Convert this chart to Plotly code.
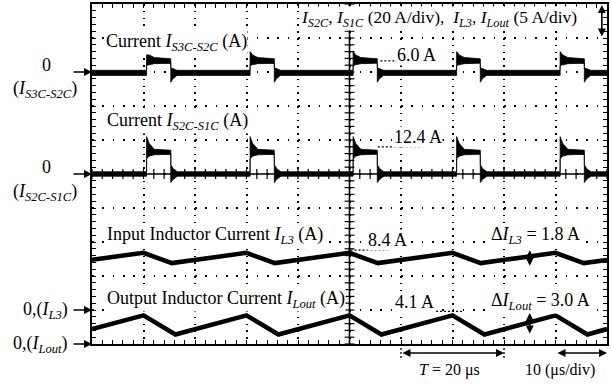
import numpy as np
import plotly.graph_objects as go

# ---------------- data ----------------
# time axis: 10 us/div, 10 divisions
TIME_RANGE_US = [0, 100]
# switching pulses (us)
PULSE_ON = [10.6, 30.7, 50.7, 70.8, 90.9]
PULSE_OFF = [15.3, 35.4, 55.4, 75.4, 95.6]

# I_S3C-S2C envelope (A), relative to edges
S1_BASE_HI, S1_BASE_LO = 1.0, -2.0
S1_RISE_DT = [0.0, 0.0, 0.5, 1.5]
S1_RISE_HI = [1.0, 12.0, 10.0, 8.5]
S1_RISE_LO = [-2.0, 3.8, 4.3, 4.9]
S1_FALL_DT = [0.0, 0.0, 0.4, 1.2]
S1_FALL_HI = [7.8, 2.5, 2.0, 1.0]
S1_FALL_LO = [5.2, -6.0, -4.0, -2.0]

# I_S2C-S1C envelope (A)
S2_BASE_HI, S2_BASE_LO = 1.3, -1.3
S2_RISE_DT = [0.0, 0.0, 0.5, 1.5]
S2_RISE_HI = [1.3, 22.0, 18.0, 14.5]
S2_RISE_LO = [-1.3, 9.0, 10.5, 11.3]
S2_FALL_DT = [0.0, 0.0, 0.5, 1.3]
S2_FALL_HI = [14.0, 5.5, 3.0, 1.3]
S2_FALL_LO = [11.6, -5.0, -3.0, -1.3]

# inductor currents (A)
IL3_T = [0, 10, 15.5, 30, 35.5, 50, 55.5, 70, 75.5, 90, 95.5, 100]
IL3_A = [7.4, 8.4, 6.9, 8.4, 6.9, 8.4, 6.9, 8.4, 6.9, 8.4, 6.9, 7.35]
ILOUT_T = [0, 10, 16.2, 30, 36.2, 50, 56.2, 70, 76.2, 90, 96.2, 100]
ILOUT_A = [2.2, 4.2, 1.4, 4.2, 1.4, 4.2, 1.4, 4.2, 1.4, 4.2, 1.4, 2.2]

# axis ranges (A) so that each zero sits on its marker
Y_S1_RANGE = [-160, 40]     # 20 A/div, zero at 8 div
Y_S2_RANGE = [-100, 100]    # 20 A/div, zero at 5 div
Y_L3_RANGE = [-5, 45]       # 5 A/div, zero at 1 div
Y_LOUT_RANGE = [0, 50]      # 5 A/div, zero at 0 div

FONT = "Liberation Serif"


def pulse_band(base_hi, base_lo, rdt, rhi, rlo, fdt, fhi, flo):
    th, vh, tl, vl = [0.0], [base_hi], [0.0], [base_lo]
    for on, off in zip(PULSE_ON, PULSE_OFF):
        for dt, h, l in zip(rdt, rhi, rlo):
            th.append(on + dt); vh.append(h); tl.append(on + dt); vl.append(l)
        for dt, h, l in zip(fdt, fhi, flo):
            th.append(off + dt); vh.append(h); tl.append(off + dt); vl.append(l)
    th.append(100.0); vh.append(base_hi); tl.append(100.0); vl.append(base_lo)
    return th + tl[::-1], vh + vl[::-1]


fig = go.Figure()

# center cross lines with tick marks
fig.add_shape(type="line", xref="x", yref="y", x0=50, x1=50, y0=0, y1=10,
              line=dict(color="black", width=1.6))
fig.add_shape(type="line", xref="x", yref="y", x0=0, x1=100, y0=5, y1=5,
              line=dict(color="black", width=1.6))
fig.add_trace(go.Scatter(x=np.arange(0, 100.01, 2), y=[5] * 51, mode="markers",
                         marker=dict(symbol="line-ns", size=7, line=dict(color="black", width=1.2)),
                         hoverinfo="skip", showlegend=False))
fig.add_trace(go.Scatter(x=[50] * 51, y=np.arange(0, 10.001, 0.2), mode="markers",
                         marker=dict(symbol="line-ew", size=7, line=dict(color="black", width=1.2)),
                         hoverinfo="skip", showlegend=False))

x1, y1 = pulse_band(S1_BASE_HI, S1_BASE_LO, S1_RISE_DT, S1_RISE_HI, S1_RISE_LO,
                    S1_FALL_DT, S1_FALL_HI, S1_FALL_LO)
fig.add_trace(go.Scatter(x=x1, y=y1, yaxis="y2", fill="toself", fillcolor="black",
                         mode="lines", line=dict(color="black", width=0.8), showlegend=False))
x2, y2 = pulse_band(S2_BASE_HI, S2_BASE_LO, S2_RISE_DT, S2_RISE_HI, S2_RISE_LO,
                    S2_FALL_DT, S2_FALL_HI, S2_FALL_LO)
fig.add_trace(go.Scatter(x=x2, y=y2, yaxis="y3", fill="toself", fillcolor="black",
                         mode="lines", line=dict(color="black", width=0.8), showlegend=False))
fig.add_trace(go.Scatter(x=IL3_T, y=IL3_A, yaxis="y4", mode="lines",
                         line=dict(color="black", width=4.5), showlegend=False))
fig.add_trace(go.Scatter(x=ILOUT_T, y=ILOUT_A, yaxis="y5", mode="lines",
                         line=dict(color="black", width=4.5), showlegend=False))

# label dashed lines
dash_lines = [
    ("y2", 56.0, 65.0, 6.5),
    ("y3", 55.5, 63.7, 16.0),
    ("y4", 50.2, 57.5, 8.8),
    ("y5", 63.7, 72.0, 4.8),
]
for yr, xa, xb, yv in dash_lines:
    fig.add_shape(type="line", xref="x", yref=yr, x0=xa, x1=xb, y0=yv, y1=yv,
                  line=dict(color="black", width=1.2, dash="2px,2px"))

# extension lines below the plot for T arrow
for xv in [60, 80]:
    fig.add_shape(type="line", xref="x", yref="paper", x0=xv, x1=xv, y0=0, y1=-0.045,
                  line=dict(color="black", width=1.3, dash="2px,2px"))

ann = []


def txt(x, y, s, size=18, xanchor="center", xref="x", yref="y", bg=None):
    d = dict(x=x, y=y, xref=xref, yref=yref, text=s, showarrow=False, xanchor=xanchor,
             yanchor="middle", font=dict(family=FONT, size=size, color="black"))
    if bg:
        d.update(bgcolor=bg, borderpad=0)
    ann.append(d)


def arrow(x, y, ax, ay, yref="y", both=False, size=1.0, width=1.6):
    ann.append(dict(x=x, y=y, ax=ax, ay=ay, xref="x", yref=yref, axref="x", ayref=yref,
                    text="", showarrow=True, arrowhead=2, arrowsize=size, arrowwidth=width,
                    arrowcolor="black", arrowside="end+start" if both else "end"))


def parrow(x, y, axpx, aypx, both=False, size=1.0, width=1.6):
    # paper-anchored arrow, tail offset in pixels
    ann.append(dict(x=x, y=y, ax=axpx, ay=aypx, xref="paper", yref="paper",
                    axref="pixel", ayref="pixel",
                    text="", showarrow=True, arrowhead=2, arrowsize=size, arrowwidth=width,
                    arrowcolor="black", arrowside="end+start" if both else "end"))


txt(2.5, 8.88, "Current <i>I</i><sub><i>S3C-S2C</i></sub> (A)", xanchor="left", bg="white")
txt(2.7, 6.53, "Current <i>I</i><sub><i>S2C-S1C</i></sub> (A)", xanchor="left", bg="white")
txt(2.7, 3.2, "Input Inductor Current <i>I</i><sub><i>L3</i></sub> (A)", xanchor="left", bg="white")
txt(2.7, 1.32, "Output Inductor Current <i>I</i><sub><i>Lout</i></sub> (A)", xanchor="left", bg="white")
txt(63.1, 8.5, "6.0 A", bg="white")
txt(63.3, 6.09, "12.4 A", bg="white")
txt(57.3, 3.06, "8.4 A", bg="white")
txt(62.7, 1.24, "4.1 A", bg="white")
txt(77.3, 3.2, "Δ<i>I</i><sub><i>L3</i></sub> = 1.8 A", xanchor="left", bg="white")
txt(77.3, 1.26, "Δ<i>I</i><sub><i>Lout</i></sub> = 3.0 A", xanchor="left", bg="white")
txt(40.4, 9.56, "<i>I</i><sub><i>S2C</i></sub>, <i>I</i><sub><i>S1C</i></sub> (20 A/div),  "
                "<i>I</i><sub><i>L3</i></sub>, <i>I</i><sub><i>Lout</i></sub> (5 A/div)",
    size=17.5, xanchor="left", bg="white")

# left zero markers (outside plot -> paper coords)
txt(-0.0874, 0.8206, "0", xref="paper", yref="paper")
txt(-0.0913, 0.75, "(<i>I</i><sub><i>S3C-S2C</i></sub>)", xref="paper", yref="paper")
txt(-0.0874, 0.5206, "0", xref="paper", yref="paper")
txt(-0.0913, 0.447, "(<i>I</i><sub><i>S2C-S1C</i></sub>)", xref="paper", yref="paper")
txt(-0.042, 0.1, "0,(<i>I</i><sub><i>L3</i></sub>)", xanchor="right", xref="paper", yref="paper")
txt(-0.042, 0.0, "0,(<i>I</i><sub><i>Lout</i></sub>)", xanchor="right", xref="paper", yref="paper")
for yp in [0.8, 0.5, 0.1, 0.0]:
    parrow(0.0, yp, -20, 0)

# ripple arrows
arrow(85.0, 8.8, 85.0, 6.3, yref="y4", both=True)
arrow(85.0, 4.56, 85.0, 1.32, yref="y5", both=True)
# div arrow top right
arrow(99.0, 9.97, 99.0, 9.0, both=True)

# bottom time arrows
parrow(0.8, -0.0265, -103, 0, both=True)
parrow(1.0, -0.0265, -51, 0, both=True)
txt(0.695, -0.0765, "<i>T</i> = 20 μs", size=16, xref="paper", yref="paper")
txt(0.909, -0.0765, "10 (μs/div)", size=16, xref="paper", yref="paper")

fig.update_layout(
    width=611, height=384,
    margin=dict(l=92, r=4, t=4, b=40, autoexpand=False),
    paper_bgcolor="white", plot_bgcolor="white",
    annotations=ann,
    showlegend=False,
    xaxis=dict(range=TIME_RANGE_US, showline=True, linecolor="black", linewidth=2, mirror="ticks",
               ticks="inside", ticklen=4, tickcolor="black", tickwidth=1, dtick=10, tick0=0,
               showticklabels=False, showgrid=True, gridcolor="black", gridwidth=1.6,
               griddash="1.6px,5.2px", zeroline=False,
               minor=dict(dtick=2, tick0=0, ticks="inside", ticklen=4, tickcolor="black",
                          showgrid=False)),
    yaxis=dict(range=[0, 10], showline=True, linecolor="black", linewidth=2, mirror="ticks",
               ticks="inside", ticklen=4, tickcolor="black", tickwidth=1, dtick=1, tick0=0,
               showticklabels=False, showgrid=True, gridcolor="black", gridwidth=1.6,
               griddash="1.6px,8.7px", zeroline=False,
               minor=dict(dtick=0.2, tick0=0, ticks="inside", ticklen=4, tickcolor="black",
                          showgrid=False)),
    yaxis2=dict(range=Y_S1_RANGE, overlaying="y", visible=False),
    yaxis3=dict(range=Y_S2_RANGE, overlaying="y", visible=False),
    yaxis4=dict(range=Y_L3_RANGE, overlaying="y", visible=False),
    yaxis5=dict(range=Y_LOUT_RANGE, overlaying="y", visible=False),
)

fig.write_html("out.html", config={"displayModeBar": False},
               post_script="document.body.style.margin='0';document.body.style.overflow='hidden';")
